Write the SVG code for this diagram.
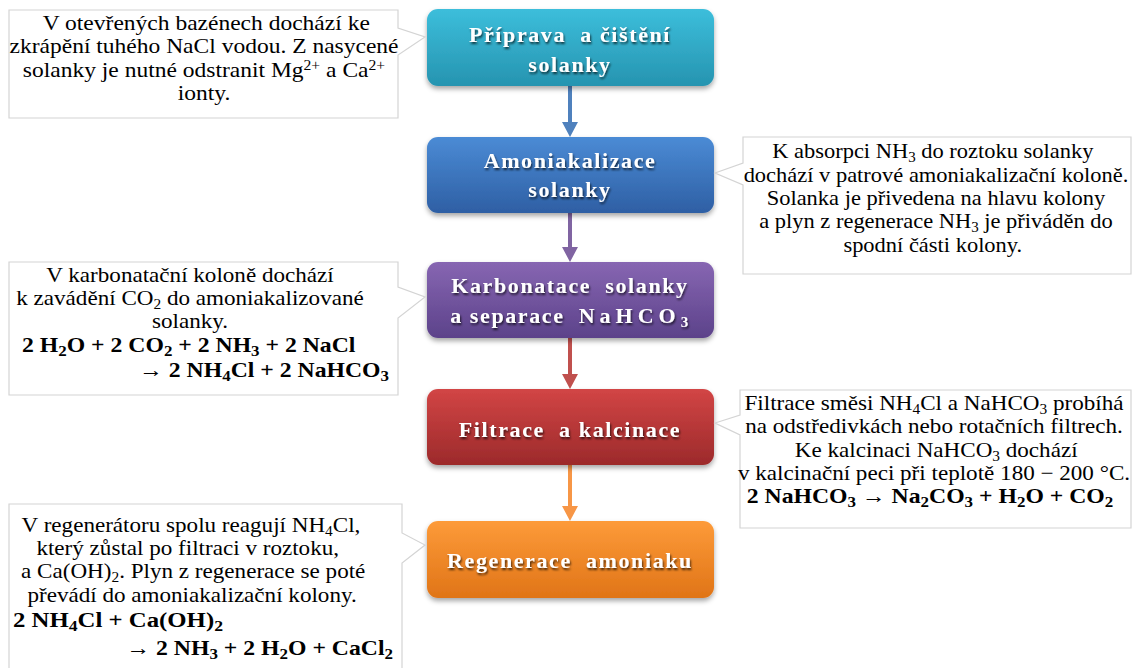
<svg xmlns="http://www.w3.org/2000/svg" width="1134" height="668" viewBox="0 0 1134 668">
<defs>
<linearGradient id="g1" x1="0" y1="0" x2="0" y2="1"><stop offset="0" stop-color="#3cbedb"/><stop offset="1" stop-color="#2694b0"/></linearGradient>
<linearGradient id="g2" x1="0" y1="0" x2="0" y2="1"><stop offset="0" stop-color="#4b8bd5"/><stop offset="1" stop-color="#2e5fa4"/></linearGradient>
<linearGradient id="g3" x1="0" y1="0" x2="0" y2="1"><stop offset="0" stop-color="#8766b2"/><stop offset="1" stop-color="#5c428a"/></linearGradient>
<linearGradient id="g4" x1="0" y1="0" x2="0" y2="1"><stop offset="0" stop-color="#d24545"/><stop offset="1" stop-color="#9c2a2b"/></linearGradient>
<linearGradient id="g5" x1="0" y1="0" x2="0" y2="1"><stop offset="0" stop-color="#fd9b39"/><stop offset="1" stop-color="#e07417"/></linearGradient>
<filter id="bs" x="-10%" y="-20%" width="120%" height="150%"><feDropShadow dx="0" dy="3" stdDeviation="2.5" flood-color="#000" flood-opacity="0.35"/></filter>
<filter id="ts" x="-10%" y="-30%" width="120%" height="160%"><feDropShadow dx="1" dy="2" stdDeviation="1.2" flood-color="#000" flood-opacity="0.7"/></filter>
</defs>
<style>
.call{fill:#fff;stroke:#d4d4d4;stroke-width:1.2}
.t{font-family:"Liberation Serif","Times New Roman",serif;font-size:21px;fill:#000;text-anchor:middle}
.eq{font-family:"Liberation Serif","Times New Roman",serif;font-size:21px;font-weight:bold;fill:#000}
.bt{font-family:"Liberation Serif","Times New Roman",serif;font-size:22px;font-weight:bold;fill:#fff;text-anchor:middle;letter-spacing:1.6px;filter:url(#ts);white-space:pre}
.arr{stroke-width:4;fill:none}
.s{font-size:14px}
.se{font-size:15px}
</style>

<g id="connectors">
<line class="arr" x1="570" y1="86" x2="570" y2="124" stroke="#4f81bd"/>
<path d="M562,122 L578,122 L570,137 Z" fill="#4f81bd"/>
<line class="arr" x1="570" y1="213" x2="570" y2="249" stroke="#8064a2"/>
<path d="M562,247 L578,247 L570,262 Z" fill="#8064a2"/>
<line class="arr" x1="570" y1="338" x2="570" y2="376" stroke="#c0504d"/>
<path d="M562,374 L578,374 L570,389 Z" fill="#c0504d"/>
<line class="arr" x1="570" y1="465" x2="570" y2="508" stroke="#f79646"/>
<path d="M562,506 L578,506 L570,521 Z" fill="#f79646"/>
</g>

<g id="step1">
<rect x="427" y="9" width="287" height="77" rx="11" fill="url(#g1)" filter="url(#bs)"/>
<text class="bt" x="570" y="42">Příprava  a čištění</text>
<text class="bt" x="570" y="72">solanky</text>
</g>
<g id="step2">
<rect x="427" y="137" width="287" height="76" rx="11" fill="url(#g2)" filter="url(#bs)"/>
<text class="bt" x="570" y="168">Amoniakalizace</text>
<text class="bt" x="570" y="197">solanky</text>
</g>
<g id="step3">
<rect x="427" y="262" width="287" height="76" rx="11" fill="url(#g3)" filter="url(#bs)"/>
<text class="bt" x="570" y="293">Karbonatace  solanky</text>
<text class="bt" x="570" y="323">a separace  <tspan letter-spacing="5px">NaHCO</tspan><tspan font-size="15" baseline-shift="-4">3</tspan></text>
</g>
<g id="step4">
<rect x="427" y="389" width="287" height="76" rx="11" fill="url(#g4)" filter="url(#bs)"/>
<text class="bt" x="570" y="437">Filtrace  a kalcinace</text>
</g>
<g id="step5">
<rect x="427" y="521" width="287" height="77" rx="11" fill="url(#g5)" filter="url(#bs)"/>
<text class="bt" x="570" y="568">Regenerace  amoniaku</text>
</g>

<g id="note1">
<path class="call" d="M9,10 H398 V28 L425,37 L398,55 V118 H9 Z"/>
<g transform="translate(204,0) scale(1.12,1)">
<text class="t" x="2" y="30">V otevřených bazénech dochází ke</text>
<text class="t" x="0" y="53">zkrápění tuhého NaCl vodou. Z nasycené</text>
<text class="t" x="0" y="77">solanky je nutné odstranit Mg<tspan class="s" baseline-shift="7">2+</tspan> a Ca<tspan class="s" baseline-shift="7">2+</tspan></text>
<text class="t" x="0" y="100">ionty.</text>
</g>
</g>

<g id="note2">
<path class="call" d="M743,137 H1131 V274 H743 V185 L715,173 L743,163 Z"/>
<g transform="translate(936,0) scale(1.07,1)">
<text class="t" x="-3" y="158">K absorpci NH<tspan class="s" baseline-shift="-4">3</tspan> do roztoku solanky</text>
<text class="t" x="0" y="182">dochází v patrové amoniakalizační koloně.</text>
<text class="t" x="0" y="205">Solanka je přivedena na hlavu kolony</text>
<text class="t" x="0" y="228">a plyn z regenerace NH<tspan class="s" baseline-shift="-4">3</tspan> je přiváděn do</text>
<text class="t" x="-3" y="252">spodní části kolony.</text>
</g>
</g>

<g id="note3">
<path class="call" d="M9,262 H398 V287 L425,297 L398,318 V395 H9 Z"/>
<g transform="translate(190,0) scale(1.1,1)">
<text class="t" x="0" y="282">V karbonatační koloně dochází</text>
<text class="t" x="0" y="305">k zavádění CO<tspan class="s" baseline-shift="-4">2</tspan> do amoniakalizované</text>
<text class="t" x="0" y="328">solanky.</text>
</g>
<text class="eq" transform="translate(22,352) scale(1.13,1)">2 H<tspan class="se" baseline-shift="-4">2</tspan>O + 2 CO<tspan class="se" baseline-shift="-4">2</tspan> + 2 NH<tspan class="se" baseline-shift="-4">3</tspan> + 2 NaCl</text>
<text class="eq" text-anchor="end" transform="translate(389,377) scale(1.13,1)">→ 2 NH<tspan class="se" baseline-shift="-4">4</tspan>Cl + 2 NaHCO<tspan class="se" baseline-shift="-4">3</tspan></text>
</g>

<g id="note4">
<path class="call" d="M740,390 H1131 V528 H740 V435 L715,423 L740,415 Z"/>
<g transform="translate(934,0) scale(1.1,1)">
<text class="t" x="0" y="410">Filtrace  směsi NH<tspan class="s" baseline-shift="-4">4</tspan>Cl a NaHCO<tspan class="s" baseline-shift="-4">3</tspan> probíhá</text>
<text class="t" x="0" y="433">na odstředivkách nebo rotačních filtrech.</text>
<text class="t" x="2" y="457">Ke kalcinaci  NaHCO<tspan class="s" baseline-shift="-4">3</tspan> dochází</text>
<text class="t" x="0" y="480">v kalcinační peci při teplotě 180 − 200 °C.</text>
</g>
<text class="eq" text-anchor="middle" transform="translate(930,503) scale(1.13,1)">2 NaHCO<tspan class="se" baseline-shift="-4">3</tspan> → Na<tspan class="se" baseline-shift="-4">2</tspan>CO<tspan class="se" baseline-shift="-4">3</tspan> + H<tspan class="se" baseline-shift="-4">2</tspan>O + CO<tspan class="se" baseline-shift="-4">2</tspan></text>
</g>

<g id="note5">
<path class="call" d="M9,504 H402 V533 L425,545 L402,563 V672 H9 Z"/>
<g transform="translate(191,0) scale(1.1,1)">
<text class="t" x="0" y="532">V regenerátoru spolu reagují NH<tspan class="s" baseline-shift="-4">4</tspan>Cl,</text>
<text class="t" x="-3" y="555">který zůstal po filtraci v roztoku,</text>
<text class="t" x="2" y="578">a Ca(OH)<tspan class="s" baseline-shift="-4">2</tspan>. Plyn z regenerace se poté</text>
<text class="t" x="1" y="602">převádí do amoniakalizační kolony.</text>
</g>
<text class="eq" transform="translate(13,627) scale(1.18,1)">2 NH<tspan class="se" baseline-shift="-4">4</tspan>Cl + Ca(OH)<tspan class="se" baseline-shift="-4">2</tspan></text>
<text class="eq" text-anchor="end" transform="translate(393,655) scale(1.13,1)">→ 2 NH<tspan class="se" baseline-shift="-4">3</tspan> + 2 H<tspan class="se" baseline-shift="-4">2</tspan>O + CaCl<tspan class="se" baseline-shift="-4">2</tspan></text>
</g>
</svg>
